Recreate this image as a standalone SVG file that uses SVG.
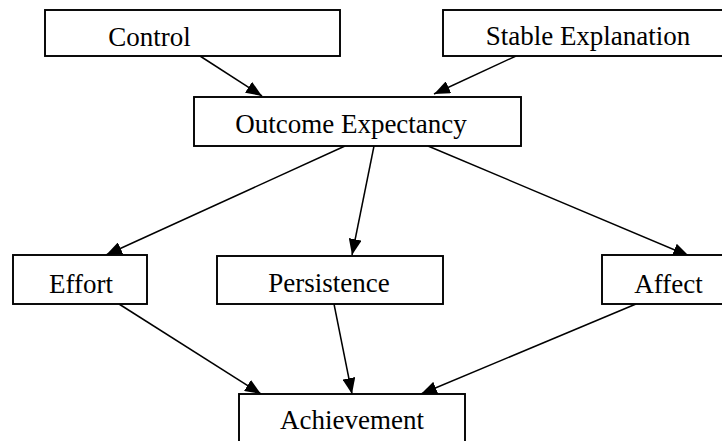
<svg xmlns="http://www.w3.org/2000/svg" width="722" height="441" viewBox="0 0 722 441">
  <style>
    .box { fill: #ffffff; stroke: #000000; stroke-width: 1.9; }
    .lbl { font-family: "Liberation Serif", "Times New Roman", serif; font-size: 27px; fill: #000000; text-anchor: middle; }
    .edge { stroke: #000000; stroke-width: 1.5; fill: none; marker-end: url(#arrow); }
  </style>
  <defs>
    <marker id="arrow" markerUnits="userSpaceOnUse" markerWidth="16" markerHeight="13" refX="16" refY="6.5" orient="auto">
      <path d="M0,0 L16,6.5 L0,13 z" fill="#000000"/>
    </marker>
  </defs>
  <rect x="0" y="0" width="722" height="441" fill="#ffffff"/>

  <g id="connectors">
    <line class="edge" x1="200" y1="56" x2="262" y2="96"/>
    <line class="edge" x1="516" y1="56" x2="434" y2="94"/>
    <line class="edge" x1="345" y1="146" x2="106" y2="255"/>
    <line class="edge" x1="374" y1="146" x2="352" y2="255"/>
    <line class="edge" x1="428" y1="146" x2="689" y2="256"/>
    <line class="edge" x1="119" y1="304" x2="261" y2="394"/>
    <line class="edge" x1="334" y1="304" x2="352" y2="394"/>
    <line class="edge" x1="636" y1="304" x2="421" y2="394"/>
  </g>

  <g id="control">
    <rect class="box" x="45" y="10" width="295" height="46"/>
    <text class="lbl" x="149.5" y="46">Control</text>
  </g>
  <g id="stable-explanation">
    <rect class="box" x="443" y="10" width="290" height="46"/>
    <text class="lbl" x="588" y="45">Stable Explanation</text>
  </g>
  <g id="outcome-expectancy">
    <rect class="box" x="194" y="97" width="327" height="49"/>
    <text class="lbl" x="351" y="133">Outcome Expectancy</text>
  </g>
  <g id="effort">
    <rect class="box" x="13" y="255" width="134" height="49"/>
    <text class="lbl" x="81" y="293">Effort</text>
  </g>
  <g id="persistence">
    <rect class="box" x="217" y="256" width="226" height="48"/>
    <text class="lbl" x="329" y="292">Persistence</text>
  </g>
  <g id="affect">
    <rect class="box" x="602" y="255" width="133" height="49"/>
    <text class="lbl" x="668.5" y="293">Affect</text>
  </g>
  <g id="achievement">
    <rect class="box" x="239" y="394" width="226" height="60"/>
    <text class="lbl" x="352" y="429">Achievement</text>
  </g>
</svg>
